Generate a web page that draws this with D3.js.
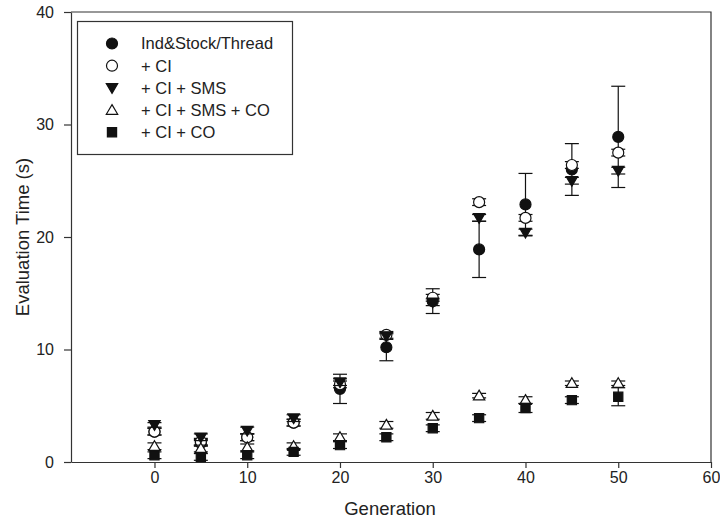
<!DOCTYPE html>
<html>
<head>
<meta charset="utf-8">
<script src="https://cdn.jsdelivr.net/npm/d3@7"></script>
<style>
  html, body { margin: 0; padding: 0; background: #fff; }
  svg { display: block; font-family: "Liberation Sans", Arial, sans-serif; }
</style>
</head>
<body>
<svg id="chart" width="720" height="521"></svg>
<script>
// Generations sampled
const generations = [0, 5, 10, 15, 20, 25, 30, 35, 40, 45, 50];

// Mean evaluation time (s) per configuration
const indStock    = [2.7, 1.7, 2.2, 3.5, 6.5, 10.2, 14.3, 18.9, 22.9, 26.0, 28.9];
const ci          = [2.7, 1.8, 2.2, 3.5, 6.9, 11.3, 14.6, 23.1, 21.7, 26.4, 27.5];
const ciSms       = [3.3, 2.2, 2.8, 3.9, 7.1, 11.2, 14.2, 21.7, 20.4, 25.0, 25.9];
const ciSmsCo     = [1.4, 1.2, 1.3, 1.4, 2.2, 3.3, 4.1, 5.9, 5.5, 7.0, 7.0];
const ciCo        = [0.6, 0.45, 0.6, 0.9, 1.5, 2.2, 3.0, 3.9, 4.8, 5.5, 5.8];

// Standard deviations
const indStockErr = [0.3, 0.3, 0.3, 0.3, 1.3, 1.2, 1.1, 2.5, 2.75, 2.3, 4.5];
const ciErr       = [0.3, 0.3, 0.3, 0.3, 0.3, 0.3, 0.3, 0.3, 0.3, 0.3, 0.3];
const ciSmsErr    = [0.2, 0.3, 0.3, 0.3, 0.3, 0.3, 0.3, 0.3, 0.3, 0.3, 0.3];
const ciSmsCoErr  = [0.3, 0.3, 0.3, 0.3, 0.3, 0.3, 0.3, 0.2, 0.3, 0.2, 0.2];
const ciCoErr     = [0.3, 0.3, 0.3, 0.3, 0.3, 0.3, 0.3, 0.3, 0.4, 0.3, 0.8];

const seriesNames = ["Ind&Stock/Thread", "+ CI", "+ CI + SMS", "+ CI + SMS + CO", "+ CI + CO"];
const xTicks = [0, 10, 20, 30, 40, 50, 60];
const yTicks = [0, 10, 20, 30, 40];

const series = [
  { name: seriesNames[0], values: indStock, err: indStockErr, shape: "circle",   fill: "#111" },
  { name: seriesNames[1], values: ci,       err: ciErr,       shape: "circle",   fill: "#fff" },
  { name: seriesNames[2], values: ciSms,    err: ciSmsErr,    shape: "triDown",  fill: "#111" },
  { name: seriesNames[3], values: ciSmsCo,  err: ciSmsCoErr,  shape: "triUp",    fill: "#fff" },
  { name: seriesNames[4], values: ciCo,     err: ciCoErr,     shape: "square",   fill: "#111" }
];

const svg = d3.select("#chart");
const plotLeft = 71, plotRight = 711, plotTop = 12, plotBottom = 462;

const x = d3.scaleLinear().domain([-9, 60]).range([plotLeft, plotRight]);
const y = d3.scaleLinear().domain([0, 40]).range([plotBottom, plotTop]);

const axisColor = "#333";
const textColor = "#222";

// Frame (top and right edges)
svg.append("path")
  .attr("d", `M${plotLeft},${plotTop}H${plotRight}V${plotBottom}`)
  .attr("fill", "none").attr("stroke", axisColor).attr("stroke-width", 1.2);

// X axis
const gx = svg.append("g").attr("transform", `translate(0,${plotBottom})`)
  .call(d3.axisBottom(x).tickValues(xTicks).tickSize(6).tickSizeOuter(0));
// Y axis
const gy = svg.append("g").attr("transform", `translate(${plotLeft},0)`)
  .call(d3.axisLeft(y).tickValues(yTicks).tickSize(7).tickSizeOuter(0).tickPadding(10));

[gx, gy].forEach(g => {
  g.select(".domain").attr("stroke", axisColor).attr("stroke-width", 1.2);
  g.selectAll(".tick line").attr("stroke", axisColor).attr("stroke-width", 1.2);
  g.selectAll(".tick text").attr("fill", textColor).style("font-size", "16px")
    .style("font-family", "'Liberation Sans', Arial, sans-serif");
});
gx.selectAll(".tick text").attr("y", 21).attr("dy", 0);

// Axis titles
svg.append("text").attr("x", 390).attr("y", 515)
  .attr("text-anchor", "middle").attr("fill", textColor).style("font-size", "18.5px")
  .text("Generation");
svg.append("text").attr("transform", `translate(29,${(plotTop + plotBottom) / 2}) rotate(-90)`)
  .attr("text-anchor", "middle").attr("fill", textColor).style("font-size", "18.5px")
  .text("Evaluation Time (s)");

// Marker path generators
function markerPath(shape) {
  switch (shape) {
    case "circle":  return d3.symbol().type(d3.symbolCircle).size(95)();
    case "square":  return "M-4.6,-4.6H4.6V4.6H-4.6Z";
    case "triUp":   return "M0,-5.5L5.7,4.2L-5.7,4.2Z";
    case "triDown": return "M0,5.5L5.7,-4.2L-5.7,-4.2Z";
  }
}

const capHalf = 7;
const plot = svg.append("g");

series.forEach(s => {
  const g = plot.append("g");
  const pts = generations.map((gen, i) => ({ gen, v: s.values[i], e: s.err[i] }));

  // Error bars
  const eb = g.selectAll("g.eb").data(pts).join("g").attr("class", "eb")
    .attr("stroke", "#111").attr("stroke-width", 1.2);
  eb.append("line")
    .attr("x1", d => x(d.gen)).attr("x2", d => x(d.gen))
    .attr("y1", d => y(d.v - d.e)).attr("y2", d => y(d.v + d.e));
  eb.append("line")
    .attr("x1", d => x(d.gen) - capHalf).attr("x2", d => x(d.gen) + capHalf)
    .attr("y1", d => y(d.v - d.e)).attr("y2", d => y(d.v - d.e));
  eb.append("line")
    .attr("x1", d => x(d.gen) - capHalf).attr("x2", d => x(d.gen) + capHalf)
    .attr("y1", d => y(d.v + d.e)).attr("y2", d => y(d.v + d.e));

  // Markers
  g.selectAll("path.mk").data(pts).join("path").attr("class", "mk")
    .attr("d", markerPath(s.shape))
    .attr("transform", d => `translate(${x(d.gen)},${y(d.v)})`)
    .attr("fill", s.fill).attr("stroke", "#111").attr("stroke-width", 1.2);
});

// Legend
const lg = svg.append("g");
lg.append("rect").attr("x", 77.5).attr("y", 21.5).attr("width", 215).attr("height", 133)
  .attr("fill", "#fff").attr("stroke", axisColor).attr("stroke-width", 1.2);
series.forEach((s, i) => {
  const cy = 43.5 + i * 22.2;
  lg.append("path").attr("d", markerPath(s.shape))
    .attr("transform", `translate(112,${cy})`)
    .attr("fill", s.fill).attr("stroke", "#111").attr("stroke-width", 1.2);
  lg.append("text").attr("x", 141).attr("y", cy).attr("dy", "0.36em")
    .attr("fill", textColor).style("font-size", "16.5px").text(s.name);
});
</script>
</body>
</html>
